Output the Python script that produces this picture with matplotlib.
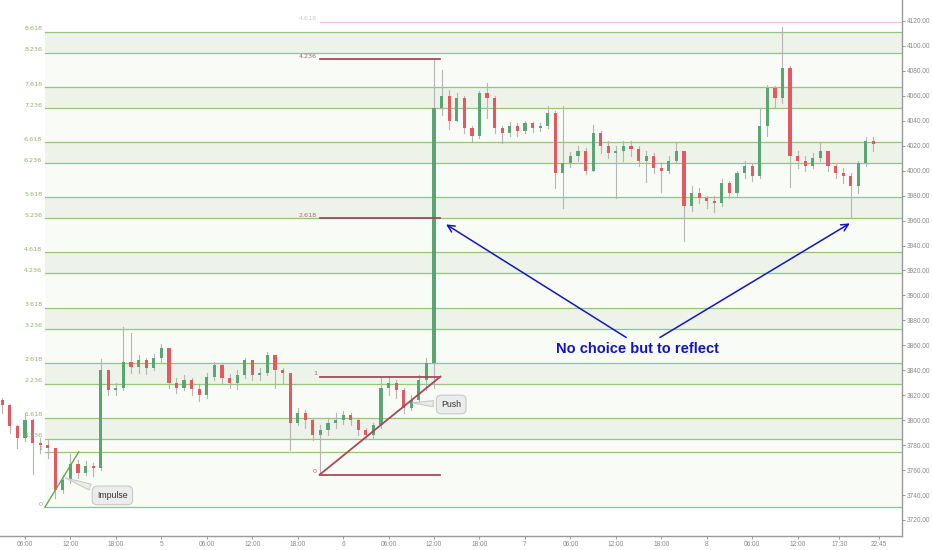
import matplotlib.pyplot as plt
import numpy as np

# hourly candles, hour 0 = day 4 00:00
hours = np.arange(3, 119)
close = [3812, 3795, 3786, 3800, 3782, 3780, 3778, 3744, 3752, 3765,
         3758, 3763, 3762, 3840, 3824, 3826, 3847, 3843, 3848, 3842,
         3850, 3858, 3830, 3826, 3832, 3825, 3820, 3835, 3844, 3834,
         3830, 3836, 3848, 3836, 3838, 3852, 3840, 3838, 3798, 3806,
         3800, 3788, 3792, 3798, 3800, 3804, 3800, 3792, 3788, 3796,
         3826, 3830, 3824, 3810, 3816, 3832, 3846, 4050, 4060, 4040,
         4058, 4034, 4028, 4062, 4058, 4034, 4030, 4036, 4032, 4038,
         4034, 4036, 4046, 3998, 4006, 4012, 4016, 4000, 4030, 4020,
         4014, 4016, 4020, 4017, 4008, 4012, 4002, 4000, 4008, 4016,
         3972, 3982, 3978, 3976, 3974, 3990, 3982, 3998, 4004, 3996,
         4036, 4066, 4058, 4082, 4012, 4008, 4004, 4010, 4016, 4004,
         3998, 3996, 3988, 4006, 4024, 4021]
high = [3818, 3813, 3796, 3806, 3801, 3786, 3784, 3777, 3756, 3773,
        3768, 3767, 3766, 3849, 3840, 3830, 3875, 3870, 3852, 3850,
        3853, 3861, 3858, 3834, 3836, 3834, 3828, 3838, 3847, 3845,
        3837, 3840, 3850, 3848, 3842, 3855, 3852, 3842, 3838, 3810,
        3808, 3802, 3796, 3802, 3806, 3807, 3806, 3802, 3794, 3798,
        3835, 3835, 3832, 3826, 3820, 3836, 3850, 4089, 4081, 4065,
        4062, 4060, 4036, 4064, 4070, 4060, 4036, 4039, 4038, 4040,
        4039, 4038, 4052, 4048, 4052, 4015, 4020, 4018, 4037, 4032,
        4024, 4020, 4024, 4024, 4020, 4016, 4014, 4006, 4012, 4022,
        4016, 3988, 3986, 3980, 3980, 3993, 3992, 4000, 4008, 4006,
        4050, 4069, 4068, 4115, 4084, 4016, 4012, 4014, 4023, 4016,
        4006, 4002, 3998, 4008, 4027, 4027]
low = [3806, 3790, 3778, 3783, 3757, 3774, 3770, 3738, 3742, 3750,
       3754, 3756, 3755, 3760, 3820, 3820, 3824, 3838, 3838, 3837,
       3840, 3846, 3826, 3822, 3824, 3820, 3815, 3818, 3832, 3830,
       3826, 3825, 3834, 3832, 3832, 3836, 3826, 3830, 3776, 3796,
       3794, 3784, 3757, 3788, 3794, 3797, 3796, 3788, 3785, 3786,
       3794, 3820, 3818, 3806, 3808, 3814, 3824, 3826, 4045, 4033,
       4040, 4030, 4024, 4026, 4042, 4030, 4022, 4028, 4028, 4030,
       4031, 4032, 4034, 3986, 3970, 4003, 4008, 3997, 4000, 4014,
       4010, 3978, 4008, 4012, 4004, 3991, 3998, 3983, 3998, 4006,
       3944, 3968, 3974, 3970, 3967, 3972, 3978, 3980, 3994, 3992,
       3994, 4028, 4050, 4054, 3987, 4002, 4000, 4002, 4008, 4000,
       3994, 3990, 3962, 3982, 4004, 4016]
open_ = [3816] + close[:-1]

# fib extension drawn on the impulse (green)
fib_levels = [0, 1, 1.236, 1.618, 2.236, 2.618, 3.236, 3.618, 4.236,
              4.618, 5.236, 5.618, 6.236, 6.618, 7.236, 7.618, 8.236, 8.618]
fib_labels = ['0', '1', '1.236', '1.618', '2.236', '2.618', '3.236', '3.618',
              '4.236', '4.618', '5.236', '5.618', '6.236', '6.618', '7.236',
              '7.618', '8.236', '8.618']
fib_base, fib_unit = 3730.4, 44.2
fib_start = 8.64

# trend based fib on the push (maroon)
push_levels = [0, 1, 2.618, 4.236]
push_labels = ['0', '1', '2.618', '4.236']
push_base, push_unit = 3756.3, 78.6
push_start, push_end = 44.9, 60.84

tick_pos = [6, 12, 18, 24, 30, 36, 42, 48, 54, 60, 66, 72, 78, 84, 90, 96,
            102, 108, 113.5, 118.75]
tick_lab = ['06:00', '12:00', '18:00', '5', '06:00', '12:00', '18:00', '6',
            '06:00', '12:00', '18:00', '7', '06:00', '12:00', '18:00', '8',
            '06:00', '12:00', '17:30', '22:45']

x_lo, x_hi = 2.7, 121.8
y_lo, y_hi = 3707.4, 4136.8

fig = plt.figure(figsize=(9.32, 5.5), dpi=100)
ax = fig.add_axes([0, 0.026, 0.968, 0.974])
ax.set_xlim(x_lo, x_hi)
ax.set_ylim(y_lo, y_hi)

line_green = '#95c57c'
band_dark = '#edf3e9'
band_light = '#f8fbf6'

# bands between fib levels
vals = [fib_base + r * fib_unit for r in fib_levels]
for i in range(len(vals) - 1):
    dark = fib_levels[i] in (1.236, 2.236, 3.236, 4.236, 5.236, 6.236, 7.236, 8.236)
    ax.fill_between([fib_start, x_hi], vals[i], vals[i + 1],
                    color=band_dark if dark else band_light, lw=0, zorder=0)
for v, lab in zip(vals, fib_labels):
    ax.plot([fib_start, x_hi], [v, v], color=line_green, lw=0.9, zorder=1)
    ax.annotate(lab, (fib_start, v), xytext=(-2, 1), textcoords='offset points',
                ha='right', va='baseline', fontsize=4.6, color='#8fb36c')

# impulse trend line
ax.plot([fib_start, 13.1], [fib_base, fib_base + fib_unit], color='#6aa552', lw=1, zorder=3)

# candles
up_c, dn_c, wick_c = '#5ba575', '#e25a60', '#b5b5b5'
for h, o, hi, lo, c in zip(hours, open_, high, low, close):
    ax.plot([h, h], [lo, hi], color=wick_c, lw=0.8, zorder=2)
    col = up_c if c >= o else dn_c
    ax.bar(h, abs(c - o) if abs(c - o) > 0.6 else 0.6, bottom=min(o, c), width=0.42,
           color=col, lw=0, zorder=2.5)

# push fib
maroon = '#a8485c'
for r, lab in zip(push_levels, push_labels):
    v = push_base + r * push_unit
    ax.plot([push_start, push_end], [v, v], color=maroon, lw=1.3, zorder=3)
    ax.annotate(lab, (push_start, v), xytext=(-2, 1), textcoords='offset points',
                ha='right', va='baseline', fontsize=4.6, color='#a06a72')
v = push_base + 4.618 * push_unit
ax.plot([push_start, x_hi], [v, v], color='#f2c4cf', lw=0.9, zorder=1)
ax.annotate('4.618', (push_start, v), xytext=(-2, 1), textcoords='offset points',
            ha='right', va='baseline', fontsize=4.6, color='#d2cacc')
ax.plot([push_start, push_end], [push_base, push_base + push_unit],
        color=maroon, lw=1.3, zorder=3)

# callouts
box = dict(boxstyle='round,pad=0.55', fc='#ececec', ec='#c9c9c9', lw=0.8)
wedge = dict(arrowstyle='wedge,tail_width=0.7', fc='#ececec', ec='#c9c9c9', lw=0.8)
ax.annotate('Impulse', xy=(11.0, 3754.5), xytext=(17.54, 3739.7), ha='center', va='center',
            fontsize=6.3, family='Liberation Sans', color='#333333',
            bbox=box, arrowprops=wedge, zorder=5)
ax.annotate('Push', xy=(56.8, 3814), xytext=(62.27, 3812.6), ha='center', va='center',
            fontsize=6.3, family='Liberation Sans', color='#333333',
            bbox=box, arrowprops=wedge, zorder=5)

blue = '#1414c4'
ax.text(86.9, 3857.1, 'No choice but to reflect', ha='center', va='center',
        fontsize=10.5, fontweight='bold', family='Liberation Sans', color=blue, zorder=6)
arr = dict(arrowstyle='->,head_length=0.5,head_width=0.25', color=blue, lw=1.1)
ax.annotate('', xy=(61.28, 3958.1), xytext=(85.68, 3865.1), arrowprops=arr, zorder=6)
ax.annotate('', xy=(115.2, 3958.9), xytext=(89.5, 3865.1), arrowprops=arr, zorder=6)

# axes styling
ax.yaxis.tick_right()
ax.set_yticks(np.arange(3720, 4121, 20))
ax.set_yticklabels(['%.2f' % t for t in np.arange(3720, 4121, 20)])
ax.set_xticks(tick_pos)
ax.set_xticklabels(tick_lab)
ax.tick_params(axis='both', labelsize=4.7, colors='#888888', length=2, width=0.6, pad=1.5)
for lab in ax.get_yticklabels() + ax.get_xticklabels():
    lab.set_family('Liberation Sans')
for s in ['top', 'left']:
    ax.spines[s].set_visible(False)
for s in ['right', 'bottom']:
    ax.spines[s].set_color('#9a9a9a')
    ax.spines[s].set_linewidth(1)

fig.savefig('out.png', dpi=100)
